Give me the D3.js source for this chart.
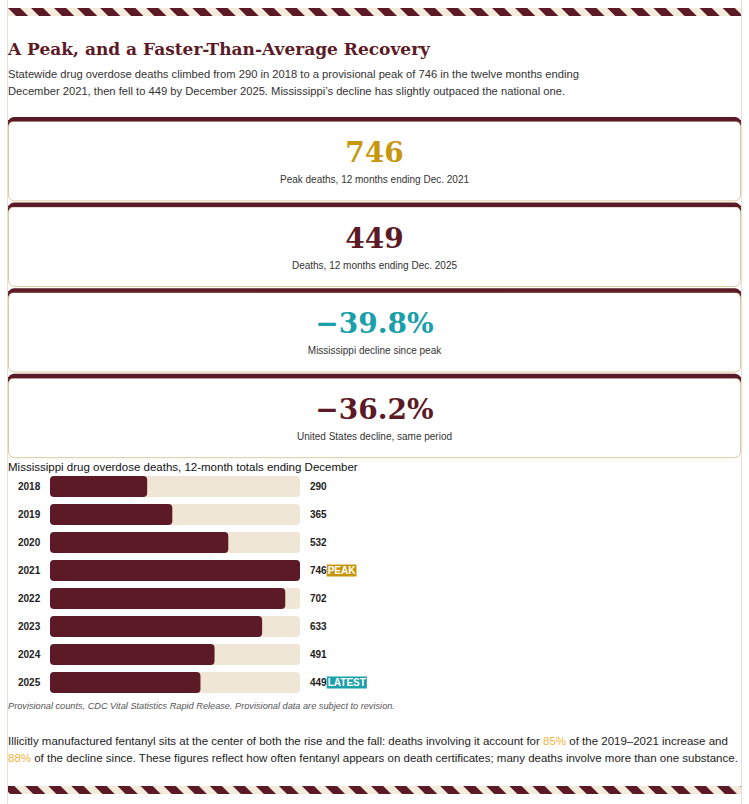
<!DOCTYPE html>
<html>
<head>
<meta charset="utf-8">
<script src="https://cdn.jsdelivr.net/npm/d3@7"></script>
<style>
  body { margin: 0; background: #fff; }
  svg { display: block; }
</style>
</head>
<body>
<div id="chart"></div>
<script>
// page size
const width = 749;
const height = 804;

// colours
const maroon = "#5c1a26";
const gold = "#c8960c";
const teal = "#1a9fab";
const cream = "#efe6d6";
const stripeLight = "#f3ecdc";

// headline data
const title = "A Peak, and a Faster-Than-Average Recovery";
const subtitleLines = [
  "Statewide drug overdose deaths climbed from 290 in 2018 to a provisional peak of 746 in the twelve months ending",
  "December 2021, then fell to 449 by December 2025. Mississippi\u2019s decline has slightly outpaced the national one."
];

// stat cards
const cardValues = ["746", "449", "\u221239.8%", "\u221236.2%"];
const cardLabels = [
  "Peak deaths, 12 months ending Dec. 2021",
  "Deaths, 12 months ending Dec. 2025",
  "Mississippi decline since peak",
  "United States decline, same period"
];
const cardColors = [gold, maroon, teal, maroon];

// bar chart data
const chartTitle = "Mississippi drug overdose deaths, 12-month totals ending December";
const years = ["2018", "2019", "2020", "2021", "2022", "2023", "2024", "2025"];
const deaths = [290, 365, 532, 746, 702, 633, 491, 449];
const badges = ["", "", "", "PEAK", "", "", "", "LATEST"];
const badgeColors = { PEAK: gold, LATEST: teal };

const footnote = "Provisional counts, CDC Vital Statistics Rapid Release. Provisional data are subject to revision.";

// closing paragraph, split into plain / highlighted pieces
const noteLine1 = [
  ["Illicitly manufactured fentanyl sits at the center of both the rise and the fall: deaths involving it account for ", false],
  ["85%", true],
  [" of the 2019\u20132021 increase and", false]
];
const noteLine2 = [
  ["88%", true],
  [" of the decline since. These figures reflect how often fentanyl appears on death certificates; many deaths involve more than one substance.", false]
];

const sans = "'Liberation Sans', Arial, sans-serif";
const serif = "'DejaVu Serif', Georgia, serif";

const svg = d3.select("#chart")
  .append("svg")
  .attr("width", width)
  .attr("height", height);

// diagonal stripe pattern
const defs = svg.append("defs");
const pat = defs.append("pattern")
  .attr("id", "stripes")
  .attr("patternUnits", "userSpaceOnUse")
  .attr("width", 16.3)
  .attr("height", 16.3)
  .attr("patternTransform", "rotate(-45)");
pat.append("rect").attr("width", 16.3).attr("height", 16.3).attr("fill", stripeLight);
pat.append("rect").attr("width", 8.6).attr("height", 16.3).attr("fill", maroon);

// container side rules
svg.append("line").attr("x1", 7.5).attr("x2", 7.5).attr("y1", 0).attr("y2", height)
  .attr("stroke", "#e6e1d6");
svg.append("line").attr("x1", 741.5).attr("x2", 741.5).attr("y1", 0).attr("y2", height)
  .attr("stroke", "#e6e1d6");

// stripe bands top and bottom
[8, 786].forEach(function(y) {
  svg.append("rect")
    .attr("x", 8).attr("y", y)
    .attr("width", 733).attr("height", 8)
    .attr("fill", "url(#stripes)");
});

// title
svg.append("text")
  .attr("x", 8)
  .attr("y", 55)
  .style("font-family", serif)
  .style("font-weight", "bold")
  .style("font-size", "17px")
  .style("fill", maroon)
  .text(title);

// subtitle
svg.append("g").selectAll("text")
  .data(subtitleLines)
  .enter()
  .append("text")
  .attr("x", 8)
  .attr("y", function(d, i) { return 78 + i * 16.5; })
  .style("font-family", sans)
  .style("font-size", "11.2px")
  .style("fill", "#333")
  .text(function(d) { return d; });

// stat cards
const cardY = d3.scaleBand()
  .domain(d3.range(cardValues.length))
  .range([117, 117 + 4 * 85.3])
  .paddingInner(0.015);

const cards = svg.selectAll(".card")
  .data(cardValues)
  .enter()
  .append("g")
  .attr("class", "card")
  .attr("transform", function(d, i) { return "translate(8," + cardY(i) + ")"; });

// dark top edge behind the card
cards.append("rect")
  .attr("x", 0).attr("y", 0)
  .attr("width", 733).attr("height", 20)
  .attr("rx", 6)
  .attr("fill", maroon);

cards.append("rect")
  .attr("x", 0.5).attr("y", 4)
  .attr("width", 732).attr("height", cardY.bandwidth() - 4.5)
  .attr("rx", 6)
  .attr("fill", "#fff")
  .attr("stroke", "#dccb9e");

// redraw the top band flat over the white card
cards.append("rect")
  .attr("x", 0).attr("y", 3)
  .attr("width", 733).attr("height", 1.5)
  .attr("fill", maroon);

cards.append("text")
  .attr("x", 366.5)
  .attr("y", 45)
  .attr("text-anchor", "middle")
  .style("font-family", serif)
  .style("font-weight", "bold")
  .style("font-size", "28px")
  .style("fill", function(d, i) { return cardColors[i]; })
  .text(function(d) { return d; });

cards.append("text")
  .attr("x", 366.5)
  .attr("y", 66)
  .attr("text-anchor", "middle")
  .style("font-family", sans)
  .style("font-size", "10px")
  .style("fill", "#333")
  .text(function(d, i) { return cardLabels[i]; });

// bar chart title
svg.append("text")
  .attr("x", 8)
  .attr("y", 471)
  .style("font-family", sans)
  .style("font-size", "11.5px")
  .style("fill", "#111")
  .text(chartTitle);

const x = d3.scaleLinear()
  .domain([0, d3.max(deaths)])
  .range([0, 250]);

const y = d3.scaleBand()
  .domain(years)
  .range([476, 693])
  .paddingInner(0.25)
  .paddingOuter(0);

const barLeft = 50;

const rows = svg.selectAll(".row")
  .data(years)
  .enter()
  .append("g")
  .attr("class", "row")
  .attr("transform", function(d) { return "translate(0," + y(d) + ")"; });

// track
rows.append("rect")
  .attr("x", barLeft)
  .attr("width", x.range()[1])
  .attr("height", y.bandwidth())
  .attr("rx", 4)
  .attr("fill", cream);

// value bar
rows.append("rect")
  .attr("x", barLeft)
  .attr("width", function(d, i) { return x(deaths[i]); })
  .attr("height", y.bandwidth())
  .attr("rx", 4)
  .attr("fill", maroon);

// year label
rows.append("text")
  .attr("x", 18)
  .attr("y", y.bandwidth() / 2)
  .attr("dy", "0.35em")
  .style("font-family", sans)
  .style("font-weight", "bold")
  .style("font-size", "10px")
  .style("fill", "#222")
  .text(function(d) { return d; });

// value label
const valueText = rows.append("text")
  .attr("x", barLeft + x.range()[1] + 10)
  .attr("y", y.bandwidth() / 2)
  .attr("dy", "0.35em")
  .style("font-family", sans)
  .style("font-weight", "bold")
  .style("font-size", "10px")
  .style("fill", "#222")
  .text(function(d, i) { return deaths[i]; });

// PEAK / LATEST badges right after the value
rows.each(function(d, i) {
  if (!badges[i]) return;
  const g = d3.select(this);
  const vx = barLeft + x.range()[1] + 10 + valueText.nodes()[i].getComputedTextLength();
  const label = g.append("text")
    .attr("x", vx + 1)
    .attr("y", y.bandwidth() / 2)
    .attr("dy", "0.35em")
    .style("font-family", sans)
    .style("font-weight", "bold")
    .style("font-size", "10px")
    .style("fill", "#fff")
    .text(badges[i]);
  const w = label.node().getComputedTextLength();
  g.insert("rect", "text:last-child")
    .attr("x", vx)
    .attr("y", y.bandwidth() / 2 - 6)
    .attr("width", w + 2)
    .attr("height", 12)
    .attr("fill", badgeColors[badges[i]]);
});

// footnote
svg.append("text")
  .attr("x", 8)
  .attr("y", 709)
  .style("font-family", sans)
  .style("font-style", "italic")
  .style("font-size", "9.2px")
  .style("fill", "#555")
  .text(footnote);

// closing paragraph
[noteLine1, noteLine2].forEach(function(line, li) {
  const t = svg.append("text")
    .attr("x", 8)
    .attr("y", 745 + li * 17)
    .style("font-family", sans)
    .style("font-size", "11.5px")
    .style("fill", "#222");
  t.selectAll("tspan")
    .data(line)
    .enter()
    .append("tspan")
    .style("fill", function(d) { return d[1] ? "#f2b53c" : "#222"; })
    .text(function(d) { return d[0]; });
});
</script>
</body>
</html>
